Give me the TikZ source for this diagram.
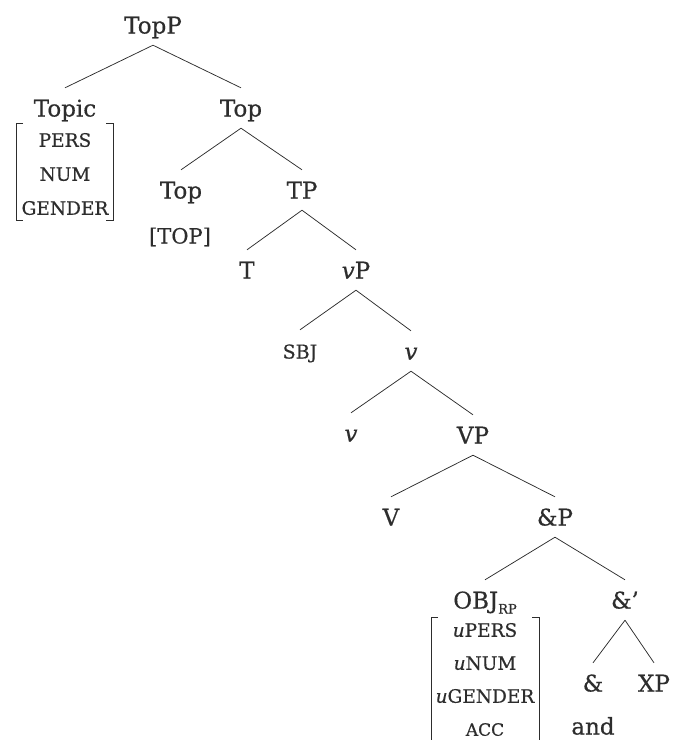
\documentclass[tikz,border=0pt]{standalone}
\usepackage{fontspec}
\setmainfont{DejaVu Serif}[FakeBold=0.5]
\definecolor{ink}{RGB}{45,45,45}
\begin{document}
\begin{tikzpicture}[x=1pt,y=-1pt,
  lab/.style={text=ink, font=\fontsize{23}{26}\selectfont, text height=20pt, text depth=3pt, inner ysep=8.5pt, inner xsep=2pt},
  feat/.style={text=ink, font=\fontsize{18.5}{20}\selectfont, text height=13.5pt, text depth=0pt, inner sep=0pt},
  edge/.style={draw=ink, line width=0.75pt},
  brk/.style={draw=ink, line width=0.9pt}]
\useasboundingbox (0,0) rectangle (673,740);

% tree nodes
\node[lab] (topp) at (153,25) {TopP};
\node[lab] (topic) at (65,108) {Topic};
\node[lab] (topbar) at (241,108) {Top};
\node[lab] (tophead) at (181,190) {Top};
\node[lab] (tp) at (302,190) {TP};
\node[lab] (t) at (247,270) {T};
\node[lab] (vp) at (356,270) {\textit{v}P};
\node[lab, font=\fontsize{19}{21}\selectfont] (sbj) at (300,350) {SBJ};
\node[lab] (vbar) at (411,351) {\textit{v}};
\node[lab] (vhead) at (351,433) {\textit{v}};
\node[lab] (vpp) at (473,435) {VP};
\node[lab] (vv) at (391,517) {V};
\node[lab] (andp) at (555,517) {\&P};
\node[lab] (obj) at (485,600) {OBJ\raisebox{-5pt}{\fontsize{13}{14}\selectfont RP}};
\node[lab] (andbar) at (625,600) {\&'};
\node[lab] (amp) at (593,683) {\&};
\node[lab] (xp) at (654,683) {XP};
\node[lab] (andw) at (593,726) {and};
\node[lab, font=\fontsize{21}{24}\selectfont] (topf) at (180,235) {[TOP]};

% edges
\draw[edge] (topp.south) -- (topic.north);
\draw[edge] (topp.south) -- (topbar.north);
\draw[edge] (topbar.south) -- (tophead.north);
\draw[edge] (topbar.south) -- (tp.north);
\draw[edge] (tp.south) -- (t.north);
\draw[edge] (tp.south) -- (vp.north);
\draw[edge] (vp.south) -- (sbj.north);
\draw[edge] (vp.south) -- (vbar.north);
\draw[edge] (vbar.south) -- (vhead.north);
\draw[edge] (vbar.south) -- (vpp.north);
\draw[edge] (vpp.south) -- (vv.north);
\draw[edge] (vpp.south) -- (andp.north);
\draw[edge] (andp.south) -- (obj.north);
\draw[edge] (andp.south) -- (andbar.north);
\draw[edge] (andbar.south) -- (amp.north);
\draw[edge] (andbar.south) -- (xp.north);

% Topic features
\node[feat] (f1) at (65,140) {PERS};
\node[feat] (f2) at (65,174) {NUM};
\node[feat] (f3) at (65,208) {GENDER};
\draw[brk] (23,123) -- (16,123) -- (16,220) -- (23,220);
\draw[brk] (106,123) -- (113,123) -- (113,220) -- (106,220);

% OBJ features
\node[feat] (g1) at (485,630) {\textit{u}PERS};
\node[feat] (g2) at (485,663) {\textit{u}NUM};
\node[feat] (g3) at (485,696) {\textit{u}GENDER};
\node[feat, font=\fontsize{17}{19}\selectfont] (g4) at (485,729) {ACC};
\draw[brk] (438,617) -- (431,617) -- (431,740);
\draw[brk] (532,617) -- (539,617) -- (539,740);
\end{tikzpicture}
\end{document}
